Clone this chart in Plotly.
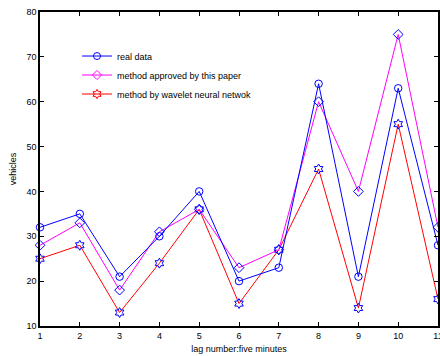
import plotly.graph_objects as go

lags = [1, 2, 3, 4, 5, 6, 7, 8, 9, 10, 11]
real_data = [32, 35, 21, 30, 40, 20, 23, 64, 21, 63, 28]
method_paper = [28, 33, 18, 31, 36, 23, 27, 60, 40, 75, 32]
method_wavelet = [25, 28, 13, 24, 36, 15, 27, 45, 14, 55, 16]

names = ["real data", "method approved by this paper", "method by wavelet neural netwok"]
colors = ["#0000ff", "#ff00ff", "#ff0000"]
symbols = ["circle-open", "diamond-open", "hexagram-open"]
series = [real_data, method_paper, method_wavelet]

fig = go.Figure()
# draw order: wavelet, paper, real so blue on top
for i in [2, 1, 0]:
    fig.add_trace(go.Scatter(
        x=lags, y=series[i], mode="lines+markers", showlegend=False,
        line=dict(color=colors[i], width=1),
        marker=dict(symbol=symbols[i], size=7.5, color="#0000ff", line=dict(width=1, color="#0000ff")),
        cliponaxis=False,
    ))
for i in range(3):
    fig.add_trace(go.Scatter(
        x=[None], y=[None], mode="lines+markers", name=names[i],
        line=dict(color=colors[i], width=1),
        marker=dict(symbol=symbols[i], size=7, color=colors[i], line=dict(width=1, color=colors[i])),
    ))

axis_common = dict(showline=True, linecolor="black", linewidth=1.5, mirror="ticks",
                   ticks="inside", ticklen=4, tickcolor="black", showgrid=False, zeroline=False,
                   ticklabeloverflow="allow", automargin=False,
                   tickfont=dict(family="Liberation Sans, Arial", size=9, color="black"))
fig.update_xaxes(range=[1, 11], tickvals=lags, ticktext=[str(v) for v in lags],
                 title=dict(text="lag number:five minutes", font=dict(size=9, color="black"), standoff=6),
                 **axis_common)
fig.update_yaxes(range=[10, 80], tickvals=[10, 20, 30, 40, 50, 60, 70, 80],
                 title=dict(text="vehicles", font=dict(size=9, color="black"), standoff=8),
                 **axis_common)
fig.update_layout(
    width=440, height=356,
    margin=dict(l=40, r=2, t=12, b=30),
    paper_bgcolor="white", plot_bgcolor="white",
    font=dict(family="Liberation Sans, Arial", size=9, color="black"),
    legend=dict(x=0.093, y=0.906, xanchor="left", yanchor="top", bgcolor="rgba(0,0,0,0)",
                font=dict(size=9), tracegroupgap=0, itemwidth=30),
)
fig.write_html("out.html", config={"displayModeBar": False},
               post_script="document.body.style.margin='0';document.body.style.overflow='hidden';"
                           "document.documentElement.style.overflow='hidden';")
